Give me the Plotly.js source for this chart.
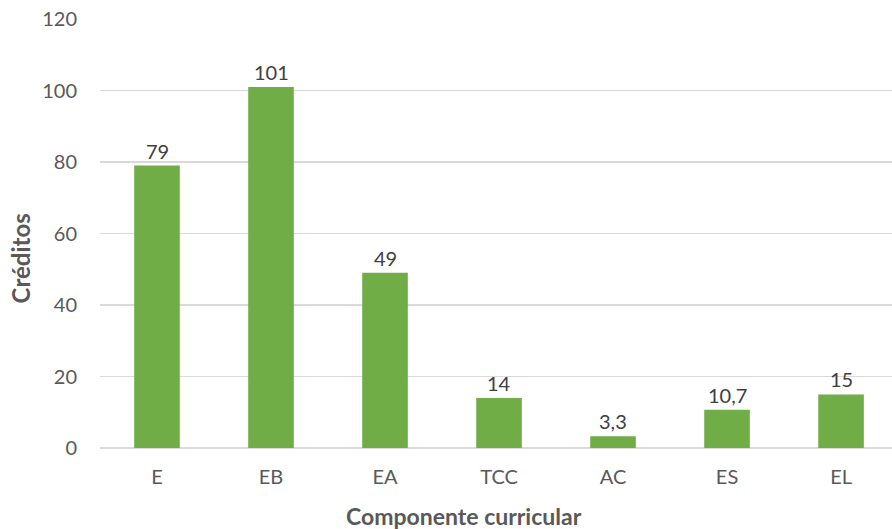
<!DOCTYPE html>
<html>
<head>
<meta charset="utf-8">
<script src="https://cdn.plot.ly/plotly-3.0.1.min.js"></script>
<style>html,body{margin:0;padding:0;background:#fff;}#chart{width:892px;height:529px;}</style>
</head>
<body>
<div id="chart"></div>
<script>
const categories = ["E", "EB", "EA", "TCC", "AC", "ES", "EL"];
const creditos = [79, 101, 49, 14, 3.3, 10.7, 15];
const yTicks = [0, 20, 40, 60, 80, 100, 120];
const dataLabels = creditos.map(v => String(v).replace('.', ','));

const FONT = 'Lato, "Open Sans", sans-serif';

const trace = {
  type: 'bar',
  x: categories,
  y: creditos,
  marker: {color: '#70AD47'},
  hoverinfo: 'none'
};

const labelAnnotations = categories.map((c, i) => ({
  x: c, y: creditos[i], xref: 'x', yref: 'y',
  text: dataLabels[i],
  showarrow: false,
  xanchor: 'center', yanchor: 'bottom',
  yshift: 1,
  font: {family: FONT, size: 20, color: '#404040'}
}));

const layout = {
  width: 892,
  height: 529,
  margin: {l: 100, r: 0, t: 18.5, b: 81},
  paper_bgcolor: '#ffffff',
  plot_bgcolor: '#ffffff',
  bargap: 0.6,
  showlegend: false,
  font: {family: FONT, color: '#595959', size: 20},
  xaxis: {
    type: 'category',
    range: [-0.5, 6.447],
    showgrid: false,
    zeroline: false,
    showline: false,
    ticks: '',
    ticklabelstandoff: 15,
    tickfont: {family: FONT, size: 20, color: '#595959'}
  },
  yaxis: {
    range: [0, 120],
    tickvals: yTicks,
    ticktext: yTicks.map(String),
    showgrid: true,
    gridcolor: '#d9d9d9',
    gridwidth: 1.3,
    zeroline: true,
    zerolinecolor: '#d9d9d9',
    zerolinewidth: 1.3,
    showline: false,
    ticks: '',
    ticklabelstandoff: 22,
    tickfont: {family: FONT, size: 20, color: '#595959'}
  },
  annotations: labelAnnotations.concat([{
    text: '<b>Créditos</b>',
    textangle: -90,
    xref: 'paper', yref: 'paper',
    x: -0.101, y: 0.442,
    xanchor: 'center', yanchor: 'middle',
    showarrow: false,
    font: {family: FONT, size: 24, color: '#595959'}
  }, {
    text: '<b>Componente curricular</b>',
    xref: 'paper', yref: 'paper',
    x: (463.5 - 100) / 792, y: -(516 - 448) / 429.5,
    xanchor: 'center', yanchor: 'middle',
    showarrow: false,
    font: {family: FONT, size: 23, color: '#595959'}
  }])
};

Plotly.newPlot('chart', [trace], layout, {displayModeBar: false, staticPlot: true});
</script>
</body>
</html>
